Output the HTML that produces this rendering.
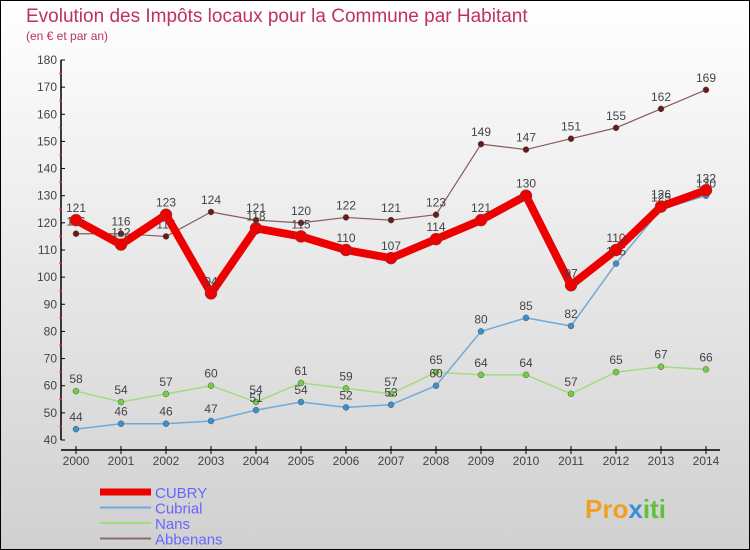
<!DOCTYPE html>
<html><head><meta charset="utf-8"><style>
body{margin:0;width:750px;height:550px;overflow:hidden;font-family:"Liberation Sans",sans-serif}
#wrap{position:absolute;left:0;top:0;width:748px;height:548px;border:1px solid #000;background:linear-gradient(#fff,#d0d0d0)}
svg text{font-family:"Liberation Sans",sans-serif}
</style></head><body>
<div id="wrap">
<svg id="chart" width="750" height="550" style="position:absolute;left:-1px;top:-1px">
<text x="26" y="22" font-size="19" fill="#c03060">Evolution des Impôts locaux pour la Commune par Habitant</text>
<text x="26" y="40" font-size="12" fill="#c03060">(en € et par an)</text>
<g id="axes"></g><g id="series"></g><g id="legend"></g>
<text x="585" y="518" font-size="26" font-weight="bold" fill="#f0a020">Pro<tspan fill="#3a8fd0">x</tspan><tspan fill="#60c040">iti</tspan></text>
</svg>
</div>
<script>
const years=[2000,2001,2002,2003,2004,2005,2006,2007,2008,2009,2010,2011,2012,2013,2014];
const cubry=[121,112,123,94,118,115,110,107,114,121,130,97,110,126,132];
const cubrial=[44,46,46,47,51,54,52,53,60,80,85,82,105,125,130];
const nans=[58,54,57,60,54,61,59,57,65,64,64,57,65,67,66];
const abbenans=[116,116,115,124,121,120,122,121,123,149,147,151,155,162,169];
const yTicks=[40,50,60,70,80,90,100,110,120,130,140,150,160,170,180];
const NS='http://www.w3.org/2000/svg';
const x=i=>76+i*45;
const y=v=>440-(v-40)*(380/140);
function mk(tag,attrs,parent){const e=document.createElementNS(NS,tag);for(const k in attrs)e.setAttribute(k,attrs[k]);parent.appendChild(e);return e;}
const ax=document.getElementById('axes');
let a=mk('line',{x1:61,y1:60,x2:61,y2:440,stroke:'#000','stroke-width':1.5},ax);


a=mk('line',{x1:61,y1:450,x2:720,y2:450,stroke:'#000','stroke-width':1.5},ax);


yTicks.forEach(v=>{
  mk('line',{x1:61,y1:y(v),x2:65,y2:y(v),stroke:'#000'},ax);
  if(v<180)mk('line',{x1:59,y1:y(v+5),x2:62,y2:y(v+5),stroke:'#f33'},ax);
  const t=mk('text',{x:57,y:y(v)+4,'font-size':12,fill:'#444','text-anchor':'end'},ax);t.textContent=v;
  
  
});
years.forEach((yr,i)=>{
  mk('line',{x1:x(i),y1:446,x2:x(i),y2:454,stroke:'#000'},ax);
  const t=mk('text',{x:x(i),y:465,'font-size':12,fill:'#444','text-anchor':'middle'},ax);t.textContent=yr;
  
  
});
const sg=document.getElementById('series');
function series(name,data,color,w,r,dot){
  const g=mk('g',{},sg);
  
  
  mk('polyline',{points:data.map((v,i)=>x(i)+','+y(v)).join(' '),fill:'none',stroke:color,'stroke-width':w,'stroke-linejoin':'round'},g);
  data.forEach((v,i)=>{
    const c=mk('circle',{cx:x(i),cy:y(v),r:r,fill:dot,stroke:'#555','stroke-width':0.5},g);
    
    
    const t=mk('text',{x:x(i),y:y(v)-8,'font-size':12,fill:'#444','text-anchor':'middle'},g);t.textContent=v;
    
    
  });
}
series('abbenans',abbenans,'#8b5a5a',1.2,3,'#6a1a1a');
series('nans',nans,'#a0dc80',1.5,3,'#70d040');
series('cubrial',cubrial,'#70aad8',1.5,3,'#3a8fd0');
series('cubry',cubry,'#ee0000',8,6,'#ee0000');
const lg=document.getElementById('legend');
[['CUBRY','#ee0000',7],['Cubrial','#70aad8',2],['Nans','#a0dc80',2],['Abbenans','#8b6a6a',2]].forEach((e,i)=>{
  const yy=492+i*15.5;
  const g=mk('g',{},lg);
  
  
  mk('line',{x1:100,y1:yy,x2:151,y2:yy,stroke:e[1],'stroke-width':e[2]},g);
  const t=mk('text',{x:155,y:yy+6,'font-size':15,fill:'#6666ff'},g);t.textContent=e[0];
});
</script>
</body></html>
